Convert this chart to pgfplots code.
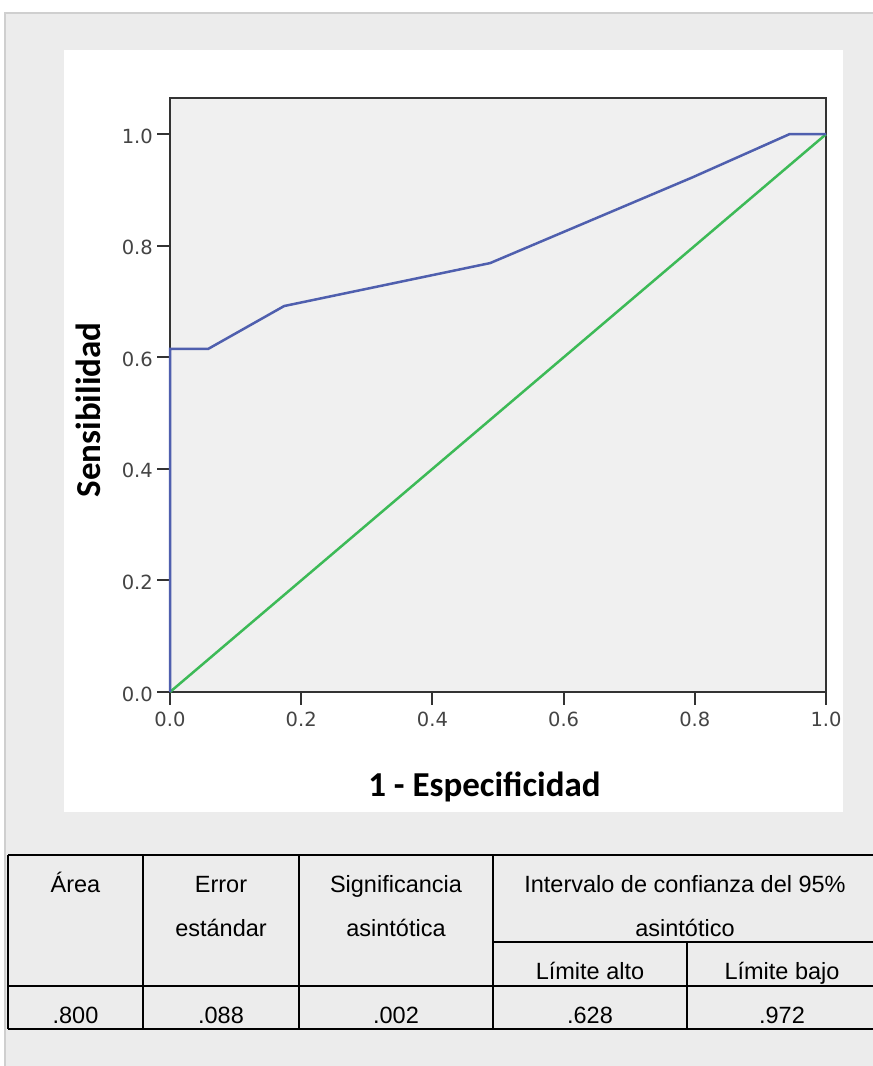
\documentclass[border=0pt]{standalone}
\usepackage{pgfplots}
\pgfplotsset{compat=1.18}
\usepackage{fontspec}
\setmainfont{Liberation Sans}
\newfontfamily\calibri{Carlito}
\newfontfamily\dejavu{DejaVu Sans}
\definecolor{gbg}{HTML}{ECECEC}
\definecolor{gline}{HTML}{CFCFCF}
\definecolor{plotbg}{HTML}{F0F0F0}
\definecolor{axcol}{HTML}{333333}
\definecolor{tickcol}{HTML}{444444}
\definecolor{rocblue}{HTML}{4F5FAE}
\definecolor{rocgreen}{HTML}{3DBA57}
\begin{document}
\begin{tikzpicture}[x=1pt,y=1pt]
\useasboundingbox (0pt,0pt) rectangle (873pt,1066pt);
\fill[white] (0pt,0pt) rectangle (873pt,1066pt);
\fill[gbg] (5pt,0pt) rectangle (873pt,1053pt);
\draw[gline, line width=1.5pt] (5pt,0pt) -- (5pt,1053pt) -- (873pt,1053pt);
\fill[white] (64pt,254pt) rectangle (843pt,1016pt);
\begin{axis}[
  scale only axis,
  width=656pt, height=594pt,
  at={(170pt,374pt)}, anchor=south west,
  xmin=0, xmax=1, ymin=0, ymax=1.065,
  axis background/.style={fill=plotbg},
  axis line style={axcol, line width=2pt},
  xtick={0,0.2,0.4,0.6,0.8,1.0},
  ytick={0,0.2,0.4,0.6,0.8,1.0},
  xtick pos=left, ytick pos=left,
  tick align=outside,
  major tick length=13pt,
  every tick/.style={axcol, line width=2pt},
  /pgf/number format/.cd, fixed, fixed zerofill, precision=1, assume math mode=true,
  /pgfplots/.cd,
  tick label style={font=\dejavu\fontsize{19.5}{19.5}\selectfont, text=tickcol},
  xticklabel style={inner sep=2pt, yshift=-5pt},
  yticklabel style={inner sep=1pt, xshift=-3pt, yshift=-2pt},
  xlabel={1 - Especificidad},
  ylabel={Sensibilidad},
  every axis x label/.style={at={(axis description cs:0.4794,-0.1751)}, anchor=base,
    font=\calibri\bfseries\fontsize{35}{35}\selectfont, text=black},
  every axis y label/.style={at={(axis description cs:-0.1067,0.4747)}, anchor=base, rotate=90,
    font=\calibri\bfseries\fontsize{35}{35}\selectfont, text=black},
  clip=false,
]
\addplot[rocgreen, line width=2.5pt] coordinates {(0,0) (1,1)};
\addplot[rocblue, line width=2.5pt] coordinates {
  (0,0) (0,0.615) (0.058,0.615) (0.174,0.692) (0.488,0.769) (0.797,0.923) (0.944,1.0) (1,1.0)
};
\end{axis}
% table
\begin{scope}[line width=2pt, black]
\draw (8pt,211pt) -- (873pt,211pt);
\draw (493pt,124pt) -- (873pt,124pt);
\draw (8pt,80pt) -- (873pt,80pt);
\draw (8pt,37pt) -- (873pt,37pt);
\draw (8pt,37pt) -- (8pt,211pt);
\draw (143pt,37pt) -- (143pt,211pt);
\draw (299pt,37pt) -- (299pt,211pt);
\draw (493pt,37pt) -- (493pt,211pt);
\draw (687pt,37pt) -- (687pt,124pt);
\end{scope}
\begin{scope}[every node/.style={font=\fontsize{23.5}{23.5}\selectfont, anchor=base, inner sep=0pt}]
\node at (75.5pt,173pt) {Área};
\node at (221pt,173pt) {Error};
\node at (221pt,129pt) {estándar};
\node at (396pt,173pt) {Significancia};
\node at (396pt,129pt) {asintótica};
\node at (685pt,173pt) {Intervalo de confianza del 95\%};
\node at (685pt,129pt) {asintótico};
\node at (590pt,86pt) {Límite alto};
\node at (782pt,86pt) {Límite bajo};
\node at (75.5pt,42pt) {.800};
\node at (221pt,42pt) {.088};
\node at (396pt,42pt) {.002};
\node at (590pt,42pt) {.628};
\node at (782pt,42pt) {.972};
\end{scope}
\end{tikzpicture}
\end{document}
